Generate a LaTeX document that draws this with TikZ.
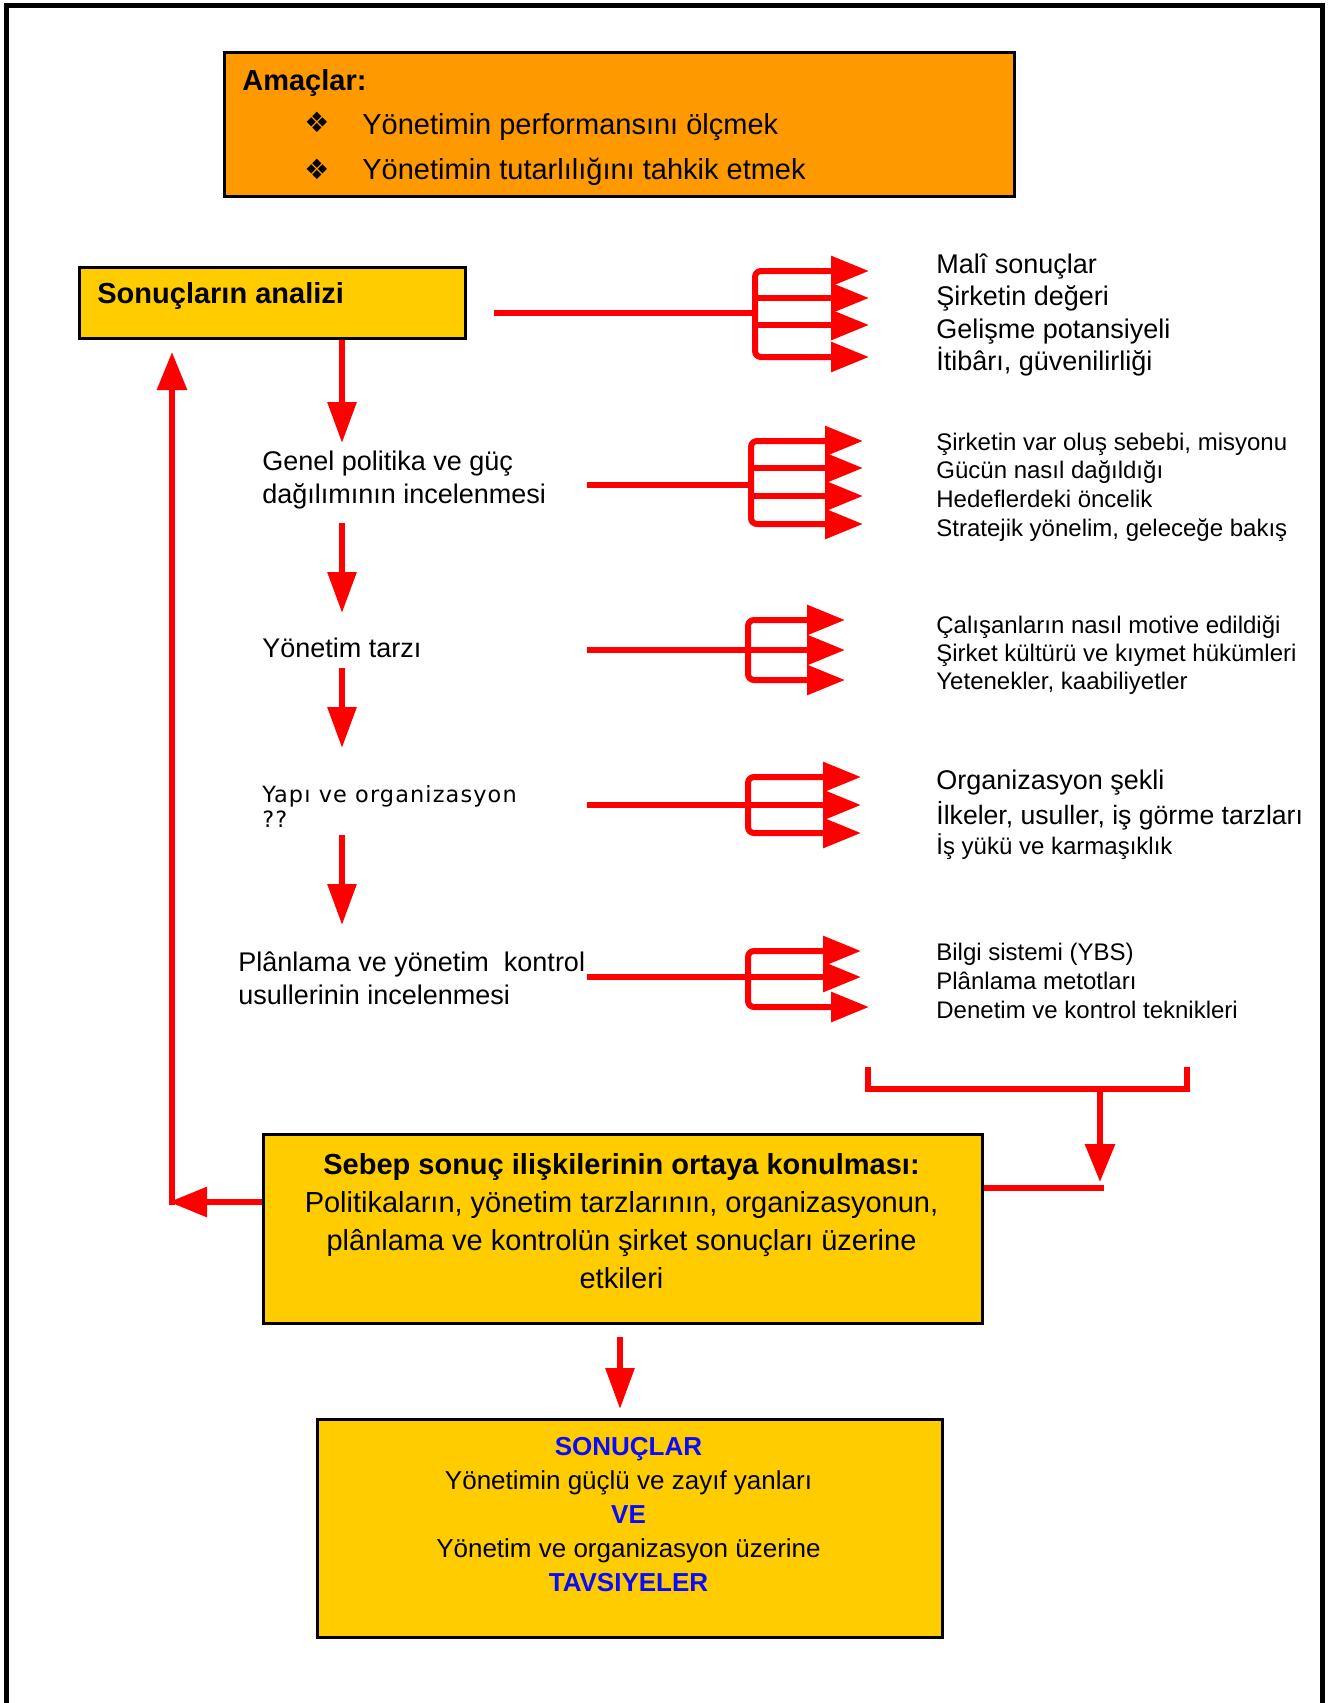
\documentclass[tikz,border=0pt]{standalone}
\usepackage{fontspec}
\setmainfont{Liberation Sans}
\newfontfamily\djv{DejaVu Sans}
\newfontfamily\djvw[LetterSpace=5]{DejaVu Sans}
\usetikzlibrary{arrows.meta,calc}
\definecolor{orangebox}{RGB}{255,153,0}
\definecolor{yellowbox}{RGB}{255,204,0}
\definecolor{txtblue}{RGB}{10,10,255}
\newcommand{\fsz}[2]{\fontsize{#1pt}{#2pt}\selectfont}
\tikzset{
  boxo/.style={draw=black, line width=1.5pt, fill=orangebox, inner sep=0pt, anchor=north west},
  boxy/.style={draw=black, line width=1.5pt, fill=yellowbox, inner sep=0pt, anchor=north west},
  txt/.style={inner sep=0pt, anchor=west, align=left},
  rl/.style={draw=red, line width=3pt},
  ra/.style={rl, -{Triangle[length=19pt,width=14.5pt]}},
  da/.style={rl, -{Triangle[length=20.5pt,width=14pt]}},
  brka/.style={ra, rounded corners=3pt}
}
\begin{document}
\begin{tikzpicture}[x=0.5pt,y=-0.5pt]
\path[use as bounding box] (0,0) rectangle (1332,1703);
% frame
\draw[line width=2.5pt, line join=miter] (6.5,1703) -- (6.5,5) -- (1322.5,5) -- (1322.5,1703);

% Amaclar box
\node[boxo, minimum width=395pt, minimum height=72pt] (amac) at (223,51) {};
\node[txt, font=\bfseries\fsz{14.5}{17}] (amactitle) at (242,83) {Amaçlar:};
\node[inner sep=0pt, font=\djv\fsz{14}{16}] (bul1) at (317,122) {❖};
\node[inner sep=0pt, font=\djv\fsz{14}{16}] (bul2) at (317,169) {❖};
\node[txt, font=\fsz{14.5}{17}] (amac1) at (362,127) {Yönetimin performansını ölçmek};
\node[txt, font=\fsz{14.5}{17}] (amac2) at (362,172) {Yönetimin tutarlılığını tahkik etmek};

% Sonuclarin analizi
\node[boxy, minimum width=193pt, minimum height=35.5pt] (analiz) at (78,266) {};
\node[txt, font=\bfseries\fsz{14.5}{17}] (analiztxt) at (97,296) {Sonuçların analizi};

% left column
\node[txt, font=\fsz{13.5}{16.5}] (genel) at (262,480) {Genel politika ve güç\\dağılımının incelenmesi};
\node[txt, font=\fsz{13.5}{16}] (yonetim) at (262,648) {Yönetim tarzı};
\node[txt, font=\djvw\fsz{11.2}{12.5}] (yapi) at (262,806) {Yapı ve organizasyon\\??};
\node[txt, font=\fsz{13.5}{16.5}] (planlama) at (238,978) {Plânlama ve yönetim~ kontrol\\usullerinin incelenmesi};

% down arrows
\coordinate (d1a) at (342,340); \coordinate (d1b) at (342,443);
\coordinate (d2a) at (342,523); \coordinate (d2b) at (342,613);
\coordinate (d3a) at (342,668); \coordinate (d3b) at (342,748);
\coordinate (d4a) at (342,835); \coordinate (d4b) at (342,925);
\draw[da] (analiz.south -| d1a) -- (d1b);
\draw[da] (d2a) -- (d2b);
\draw[da] (d3a) -- (d3b);
\draw[da] (d4a) -- (d4b);

% right texts
\node[txt, font=\fsz{13.5}{16.2}] (r1) at (936,315) {Malî sonuçlar\\Şirketin değeri\\Gelişme potansiyeli\\İtibârı, güvenilirliği};
\node[txt, font=\fsz{12}{14.3}] (r2) at (936,487) {Şirketin var oluş sebebi, misyonu\\Gücün nasıl dağıldığı\\Hedeflerdeki öncelik\\Stratejik yönelim, geleceğe bakış};
\node[txt, font=\fsz{12}{14}] (r3) at (936,655) {Çalışanların nasıl motive edildiği\\Şirket kültürü ve kıymet hükümleri\\Yetenekler, kaabiliyetler};
\node[txt, font=\fsz{13.5}{16}] (r4a) at (936,783) {Organizasyon şekli};
\node[txt, font=\fsz{13.3}{16}] (r4b) at (936,816) {İlkeler, usuller, iş görme tarzları};
\node[txt, font=\fsz{12}{14}] (r4c) at (936,847) {İş yükü ve karmaşıklık};
\node[txt, font=\fsz{12}{14.5}] (r5) at (936,981) {Bilgi sistemi (YBS)\\Plânlama metotları\\Denetim ve kontrol teknikleri};

% group 1
\coordinate (s1) at (494,313); \coordinate (j1) at (755,313);
\draw[rl] (s1) -- (j1);
\draw[brka] (j1) -- (755,271) -- (869,271);
\draw[brka] (j1) -- (755,357) -- (869,357);
\draw[ra] (755,298) -- (869,298);
\draw[ra] (755,325) -- (869,325);
% group 2
\coordinate (s2) at (587,485); \coordinate (j2) at (751,485);
\draw[rl] (s2) -- (j2);
\draw[brka] (j2) -- (751,441) -- (863,441);
\draw[brka] (j2) -- (751,524) -- (863,524);
\draw[ra] (751,468) -- (863,468);
\draw[ra] (751,496) -- (863,496);
% group 3
\coordinate (s3) at (587,650); \coordinate (j3) at (748,650);
\draw[ra] (s3) -- (845,650);
\draw[brka] (j3) -- (748,620) -- (845,620);
\draw[brka] (j3) -- (748,680) -- (845,680);
% group 4
\coordinate (s4) at (587,805); \coordinate (j4) at (748,805);
\draw[ra] (s4) -- (861,805);
\draw[brka] (j4) -- (748,777) -- (861,777);
\draw[brka] (j4) -- (748,833) -- (861,833);
% group 5
\coordinate (s5) at (587,977); \coordinate (j5) at (748,977);
\draw[ra] (s5) -- (861,977);
\draw[brka] (j5) -- (748,951) -- (861,951);
\draw[brka] (j5) -- (748,1007) -- (869,1007);

% merge bracket
\coordinate (m1) at (868,1067); \coordinate (m2) at (1187,1067);
\coordinate (mj) at (1100,1089); \coordinate (mt) at (1100,1182);
\draw[rl, line join=miter] (m1) -- (m1 |- mj) -- (m2 |- mj) -- (m2);
\draw[ra] (mj) -- (mt);

% Sebep box
\node[boxy, minimum width=359.5pt, minimum height=94.5pt] (sebep) at (262,1133) {};
\node[inner sep=0pt, align=center, font=\fsz{14.5}{19}] (sebeptxt) at (621.5,1221) {\textbf{Sebep sonuç ilişkilerinin ortaya konulması:}\\Politikaların, yönetim tarzlarının, organizasyonun,\\plânlama ve kontrolün şirket sonuçları üzerine\\etkileri};
\coordinate (me) at (1104,1188);
\draw[rl] (sebep.east |- me) -- (me);

% feedback
\coordinate (fc) at (172,1202);
\coordinate (ft) at (172,352);
\draw[ra] (sebep.west |- fc) -- (169,1202);
\draw[ra] (172,1205) -- (ft);

% bottom arrow
\coordinate (b1) at (620,1337); \coordinate (b2) at (620,1409);
\draw[da] (b1) -- (b2);

% Sonuclar box
\node[boxy, minimum width=312.5pt, minimum height=109pt] (sonuc) at (316,1418) {};
\node[inner sep=0pt, align=center, font=\fsz{13}{17}] (sonuctxt) at (628.5,1515) {\textcolor{txtblue}{\textbf{SONUÇLAR}}\\Yönetimin güçlü ve zayıf yanları\\\textcolor{txtblue}{\textbf{VE}}\\Yönetim ve organizasyon üzerine\\\textcolor{txtblue}{\textbf{TAVSIYELER}}};
\end{tikzpicture}
\end{document}
